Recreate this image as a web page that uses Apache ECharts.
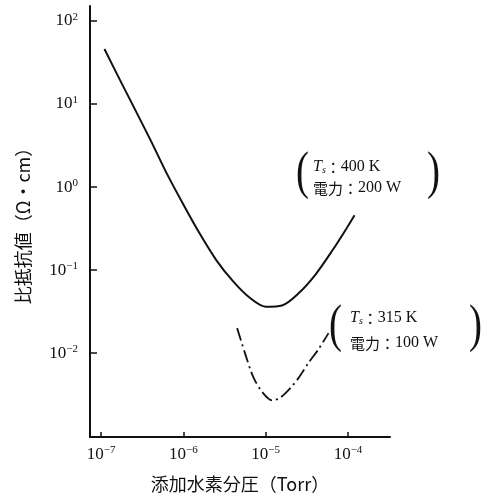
<!DOCTYPE html>
<html>
<head>
<meta charset="utf-8">
<script src="https://cdn.jsdelivr.net/npm/echarts@6/dist/echarts.min.js"></script>
<style>html,body{margin:0;padding:0;background:#fff;}#c{width:492px;height:498px;}</style>
</head>
<body>
<div id="c"></div>
<script>
// Data (partial H2 pressure in Torr, resistivity in Ω·cm)
const pressure400K = [1.10e-7, 1.58e-7, 2.51e-7, 3.98e-7, 6.3e-7, 1.0e-6, 1.58e-6, 2.51e-6, 3.98e-6, 6.3e-6, 1.0e-5, 1.58e-5, 2.51e-5, 3.98e-5, 6.3e-5, 1.0e-4, 1.2e-4];
const rho400K      = [46, 22.4, 9.1, 3.7, 1.45, 0.617, 0.275, 0.132, 0.074, 0.047, 0.0362, 0.0375, 0.0525, 0.087, 0.166, 0.339, 0.457];
const pressure315K = [4.5e-6, 5.6e-6, 7.1e-6, 9.3e-6, 1.2e-5, 1.5e-5, 2.0e-5, 2.5e-5, 3.3e-5, 4.4e-5, 5.8e-5];
const rho315K      = [0.02, 0.01, 0.0051, 0.0033, 0.0027, 0.0029, 0.0038, 0.005, 0.0076, 0.0112, 0.0174];
const xTickExp = [-7, -6, -5, -4];
const yTickExp = [-2, -1, 0, 1, 2];
const xName = '添加水素分圧（Torr）';
const yName = '比抵抗値（Ω・cm）';
const ann1 = ['400 K', '200 W'];
const ann2 = ['315 K', '100 W'];

const toPts = (xs, ys) => xs.map((x, i) => [Math.log10(x), Math.log10(ys[i])]);
const supFmt = v => '{b|10}{s|' + (v < 0 ? '−' + (-v) : String(v)) + '}';
const serif = 'Liberation Serif';
const cjk = 'Noto Sans CJK JP';
const richLbl = {
  b: {fontFamily: serif, fontSize: 17, color: '#111', lineHeight: 19},
  s: {fontFamily: serif, fontSize: 11, color: '#111', verticalAlign: 'top', lineHeight: 12}
};

const chart = echarts.init(document.getElementById('c'));

function annText(line, x, y) {
  return {type: 'text', left: x, top: y, style: {
    text: line, rich: {
      it: {fontFamily: serif, fontStyle: 'italic', fontSize: 16, fill: '#111'},
      sub: {fontFamily: serif, fontStyle: 'italic', fontSize: 10, fill: '#111', verticalAlign: 'bottom'},
      c: {fontFamily: cjk, fontSize: 15, fill: '#111'},
      n: {fontFamily: serif, fontSize: 16, fill: '#111'}
    }
  }};
}
function paren(ch, x, y) {
  return {type: 'text', left: x, top: y, scaleX: 0.75,
    style: {text: ch, fontFamily: serif, fontSize: 52, fill: '#111'}};
}

chart.setOption({
  animation: false,
  backgroundColor: '#fff',
  grid: {left: 90, top: 6, right: 102, bottom: 61},
  xAxis: {
    type: 'value', min: -7.134, max: -3.49,
    name: xName, nameLocation: 'middle', nameGap: 38,
    nameTextStyle: {fontFamily: cjk, fontSize: 18, color: '#111'},
    axisLine: {show: true, onZero: false, lineStyle: {color: '#111', width: 2}},
    axisTick: {show: true, inside: true, length: 5, lineStyle: {color: '#111', width: 1.5}, customValues: xTickExp},
    axisLabel: {margin: 8, formatter: supFmt, rich: richLbl, customValues: xTickExp},
    splitLine: {show: false}
  },
  yAxis: {
    type: 'value', min: -3.01, max: 2.18,
    name: yName, nameLocation: 'middle', nameGap: 58, nameRotate: 90,
    nameTextStyle: {fontFamily: cjk, fontSize: 18, color: '#111'},
    axisLine: {show: true, onZero: false, lineStyle: {color: '#111', width: 2}},
    axisTick: {show: true, inside: true, length: 7, lineStyle: {color: '#111', width: 1.5}, customValues: yTickExp},
    axisLabel: {margin: 12, formatter: supFmt, rich: richLbl, customValues: yTickExp},
    splitLine: {show: false}
  },
  series: [
    {type: 'line', data: toPts(pressure400K, rho400K), smooth: 0.3, showSymbol: false,
     lineStyle: {color: '#111', width: 2}},
    {type: 'line', data: toPts(pressure315K, rho315K), smooth: 0.3, showSymbol: false,
     lineStyle: {color: '#111', width: 1.8, type: [13, 4, 2, 4]}}
  ],
  graphic: [
    paren('(', 296, 148),
    annText('{it|T}{sub|s}{c|：}{n|' + ann1[0] + '}', 313, 159),
    annText('{c|電力：}{n|' + ann1[1] + '}', 313, 180),
    paren(')', 427, 148),
    paren('(', 329, 301),
    annText('{it|T}{sub|s}{c|：}{n|' + ann2[0] + '}', 350, 310),
    annText('{c|電力：}{n|' + ann2[1] + '}', 350, 335),
    paren(')', 469, 301)
  ]
});
</script>
</body>
</html>
